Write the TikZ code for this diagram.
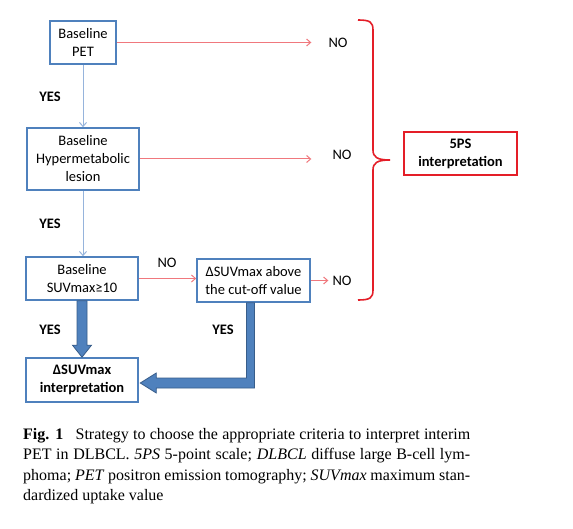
\documentclass[tikz,border=0pt]{standalone}
\usepackage{fontspec}
\setmainfont{Liberation Serif}
\newfontfamily\calfont{Carlito}
\usetikzlibrary{arrows.meta,calc}
\definecolor{boxblue}{RGB}{79,129,189}
\definecolor{darkblue}{RGB}{56,93,138}
\definecolor{lightblue}{RGB}{150,180,220}
\definecolor{lightred}{RGB}{240,120,125}
\definecolor{bracered}{RGB}{228,30,40}
\tikzset{
  flowbox/.style={draw=boxblue, line width=1.6pt, fill=white, align=center, inner sep=0pt,
    font=\calfont\fontsize{14.5}{18}\selectfont},
  redbox/.style={draw=bracered, line width=1.6pt, fill=white, align=center, inner sep=0pt,
    font=\calfont\bfseries\fontsize{14.5}{18}\selectfont},
  lbl/.style={inner sep=0pt, font=\calfont\fontsize{14.5}{18}\selectfont},
  yeslbl/.style={inner sep=0pt, font=\calfont\bfseries\fontsize{14.5}{18}\selectfont},
  noarrow/.style={draw=lightred, line width=1pt, -{Straight Barb[length=4pt,width=7pt]}},
  yesarrow/.style={draw=lightblue, line width=1pt, -{Straight Barb[length=4pt,width=7pt]}},
  fatarrow/.style={fill=boxblue, draw=darkblue, line width=0.8pt, line join=miter},
  brace/.style={draw=bracered, line width=1.6pt},
  captext/.style={inner sep=0pt, anchor=base west, font=\fontsize{16}{20}\selectfont},
}
\begin{document}
\begin{tikzpicture}[x=1pt,y=-1pt]
\useasboundingbox[fill=white] (0,0) rectangle (573,529);

% boxes
\node[flowbox, minimum width=66, minimum height=43] (pet) at (83,42.5) {Baseline\\PET};
\node[flowbox, minimum width=112, minimum height=62] (hyp) at (83,159) {Baseline\\Hypermetabolic\\lesion};
\node[flowbox, minimum width=112, minimum height=43] (suv) at (82,278.5) {Baseline\\SUVmax≥10};
\node[flowbox, minimum width=113, minimum height=43] (cut) at (253.5,280.5) {ΔSUVmax above\\the cut-off value};
\node[flowbox, minimum width=112, minimum height=44, font=\calfont\bfseries\fontsize{14.5}{18}\selectfont] (dint) at (82,380) {ΔSUVmax\\interpretation};
\node[redbox, minimum width=113, minimum height=43] (fps) at (460.5,153.5) {5PS\\interpretation};

% labels
\node[lbl] (no1) at (338,43) {NO};
\node[lbl] (no2) at (342,155) {NO};
\node[lbl] (no3) at (342,281) {NO};
\node[lbl] (no4) at (167,263) {NO};
\node[yeslbl] (yes1) at (50,97) {YES};
\node[yeslbl] (yes2) at (50,224) {YES};
\node[yeslbl] (yes3) at (50,330) {YES};
\node[yeslbl] (yes4) at (223,330) {YES};

% thin arrows
\draw[yesarrow] (pet.south) -- (hyp.north);
\draw[yesarrow] (hyp.south) -- (hyp.south |- suv.north);
\draw[noarrow, shorten >=17pt] (pet.east) -- (pet.east -| no1.west);
\draw[noarrow, shorten >=21pt] (hyp.east) -- (hyp.east -| no2.west);
\draw[noarrow] (suv.east) -- (suv.east -| cut.west);
\draw[noarrow, shorten >=4pt] (cut.east) -- (cut.east -| no3.west);

% fat arrows
\draw[fatarrow] ($(suv.south)+(-5,0)$) -- ($(dint.north)+(-5,-12)$) -- ($(dint.north)+(-9.5,-12)$)
  -- (dint.north) -- ($(dint.north)+(9.5,-12)$) -- ($(dint.north)+(5,-12)$) -- ($(suv.south)+(5,0)$) -- cycle;
\coordinate (tip) at ($(dint.east)+(1.5,3)$);
\coordinate (cs) at ($(cut.south)+(-3,0)$);
\draw[fatarrow] ($(cs)+(-4,0)$) |- ($(tip)+(16,-5)$) -- ($(tip)+(16,-10)$) -- (tip)
  -- ($(tip)+(16,10)$) -- ($(tip)+(16,5)$) -| ($(cs)+(4,0)$) -- cycle;

% brace
\draw[brace] (358,20) .. controls (370,20) and (373,22) .. (373,30) -- (373,150)
  .. controls (373,157) and (377,160) .. (390,160)
  .. controls (377,160) and (373,163) .. (373,170) -- (373,290)
  .. controls (373,298) and (370,300) .. (358,300);

% caption
\node[captext] (cap1) at (23,439) {\makebox[447pt][s]{\textbf{Fig. 1}\hspace{0.5em} Strategy to choose the appropriate criteria to interpret interim}};
\node[captext] (cap2) at (23,459.5) {\makebox[447pt][s]{PET in DLBCL. \textit{5PS} 5-point scale; \textit{DLBCL} diffuse large B-cell lym-}};
\node[captext] (cap3) at (23,480) {\makebox[447pt][s]{phoma; \textit{PET} positron emission tomography; \textit{SUVmax} maximum stan-}};
\node[captext] (cap4) at (23,500) {dardized uptake value};
\end{tikzpicture}
\end{document}
